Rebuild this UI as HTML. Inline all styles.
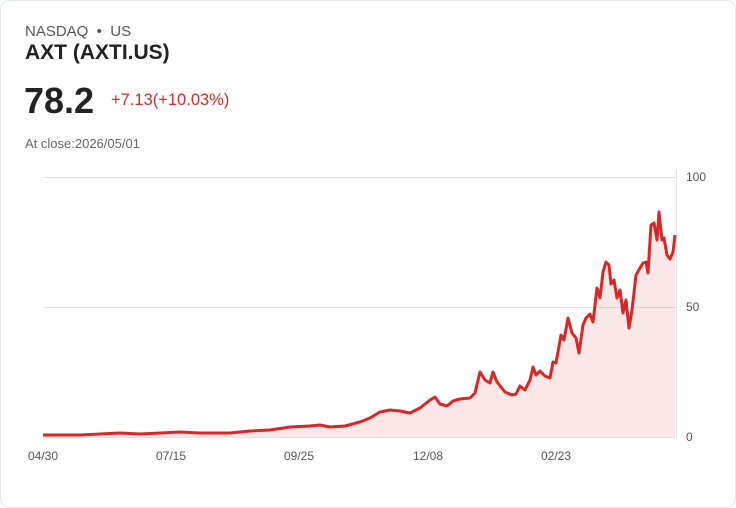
<!DOCTYPE html>
<html><head><style>
body{margin:0;background:#fff;font-family:"Liberation Sans",sans-serif;}
.card{position:absolute;left:0;top:0;width:734px;height:506px;border:1px solid #e3e6ea;border-radius:10px;}
.t{position:absolute;white-space:nowrap;}
</style></head><body>
<div class="card"></div>
<div class="t" style="left:25px;top:23px;font-size:15px;color:#555">NASDAQ &nbsp;•&nbsp; US</div>
<div class="t" style="left:25px;top:41px;font-size:21px;font-weight:bold;color:#222">AXT (AXTI.US)</div>
<div class="t" style="left:24px;top:80px;font-size:36px;font-weight:bold;color:#222">78.2</div>
<div class="t" style="left:111px;top:91px;font-size:16.5px;color:#d92b2b">+7.13(+10.03%)</div>
<div class="t" style="left:25px;top:136px;font-size:13px;color:#666">At close:2026/05/01</div>
<svg width="736" height="508" style="position:absolute;left:0;top:0">
<g stroke="#e3e3e3" stroke-width="1">
<line x1="43" y1="177.5" x2="676" y2="177.5"/><line x1="43" y1="307.5" x2="676" y2="307.5"/><line x1="43" y1="437.5" x2="676" y2="437.5"/>
<line x1="676.5" y1="170" x2="676.5" y2="438"/>
</g>
<g font-size="12" fill="#555" font-family="Liberation Sans">
<text x="686" y="181">100</text><text x="686" y="311">50</text><text x="686" y="441">0</text>
<text x="28" y="460">04/30</text><text x="156" y="460">07/15</text><text x="284" y="460">09/25</text><text x="413" y="460">12/08</text><text x="541" y="460">02/23</text>
</g>
<path d="M43,435 L80,435 L100,434 L120,433 L140,434 L160,433 L180,432 L200,433 L230,433 L250,431 L270,430 L290,427 L310,426 L320,425 L330,427 L345,426 L360,422 L370,418 L380,412 L390,410 L400,411 L410,413 L420,408 L430,400 L435,397 L440,404 L447,406 L453,401 L460,399 L470,398 L475,393 L480,372 L485,380 L490,383 L493,372 L497,382 L505,392 L512,395 L516,394 L520,386 L525,390 L530,380 L533,367 L536,375 L540,371 L545,376 L550,378 L553,362 L556,363 L561,335 L564,340 L568,318 L572,333 L576,338 L579,353 L583,325 L586,318 L590,314 L593,322 L597,288 L600,298 L603,272 L606,262 L609,265 L611,284 L614,280 L617,298 L620,290 L623,313 L626,300 L629,328 L632,310 L636,275 L640,268 L643,263 L646,262 L648,273 L651,225 L654,223 L657,240 L659,212 L662,240 L664,238 L667,255 L670,259 L673,252 L675,235 L675,437 L43,437Z" fill="#dc2626" fill-opacity="0.11"/>
<path d="M43,435 L80,435 L100,434 L120,433 L140,434 L160,433 L180,432 L200,433 L230,433 L250,431 L270,430 L290,427 L310,426 L320,425 L330,427 L345,426 L360,422 L370,418 L380,412 L390,410 L400,411 L410,413 L420,408 L430,400 L435,397 L440,404 L447,406 L453,401 L460,399 L470,398 L475,393 L480,372 L485,380 L490,383 L493,372 L497,382 L505,392 L512,395 L516,394 L520,386 L525,390 L530,380 L533,367 L536,375 L540,371 L545,376 L550,378 L553,362 L556,363 L561,335 L564,340 L568,318 L572,333 L576,338 L579,353 L583,325 L586,318 L590,314 L593,322 L597,288 L600,298 L603,272 L606,262 L609,265 L611,284 L614,280 L617,298 L620,290 L623,313 L626,300 L629,328 L632,310 L636,275 L640,268 L643,263 L646,262 L648,273 L651,225 L654,223 L657,240 L659,212 L662,240 L664,238 L667,255 L670,259 L673,252 L675,235" fill="none" stroke="#dc2626" stroke-width="3" stroke-linejoin="round"/>
</svg>
</body></html>
